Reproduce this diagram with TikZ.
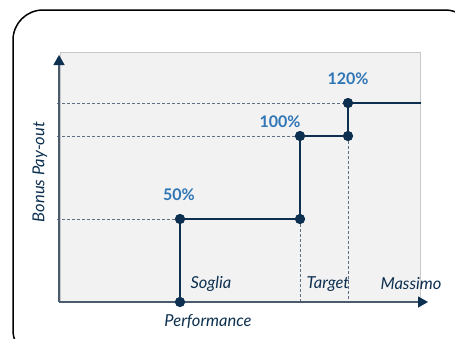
\documentclass[tikz,border=0pt]{standalone}
\usepackage{fontspec}
\setmainfont{Lato}
\usetikzlibrary{arrows.meta}
\definecolor{navy}{HTML}{0D3050}
\definecolor{axisc}{HTML}{4A5B6E}
\definecolor{dashc}{HTML}{5F6E80}
\definecolor{pctblue}{HTML}{2E75B6}
\definecolor{panel}{HTML}{F2F2F2}
\definecolor{panelb}{HTML}{C8C8C8}
\tikzset{
  dot/.style={circle,fill=navy,inner sep=0pt,minimum size=10pt},
  stepline/.style={navy,line width=2.8pt},
  guide/.style={dashc,line width=0.8pt,dash pattern=on 3pt off 2pt},
  axisline/.style={axisc,line width=1.3pt},
  pct/.style={text=pctblue,font=\bfseries\fontsize{16}{18}\selectfont},
  lbl/.style={text=navy,font=\itshape\fontsize{16.5}{19}\selectfont}
}
\begin{document}
\begin{tikzpicture}[x=1pt,y=-1pt]
\useasboundingbox (0,0) rectangle (455,338);
\begin{scope}
\clip (0,0) rectangle (455,338);
\draw[black,line width=1.5pt,rounded corners=30pt] (13,10) rectangle (475,360);
\end{scope}
\draw[panelb,fill=panel,line width=0.6pt] (60,52) rectangle (420,302);
% guides
\coordinate (g120) at (57,103);
\coordinate (g100) at (57,136);
\coordinate (g50) at (57,219);
\coordinate (xo) at (59,302);
\coordinate (xe) at (428,302);
\coordinate (ye) at (59,55);
\coordinate (rend) at (421,103);
\node[dot] (p0) at (180,302) {};
\node[dot] (p1) at (180,219) {};
\node[dot] (p2) at (300,219) {};
\node[dot] (p3) at (300,136) {};
\node[dot] (p4) at (348,136) {};
\node[dot] (p5) at (348,103) {};
\coordinate (b2) at (300,302);
\coordinate (b4) at (348,302);
\draw[guide] (g120) -- (p5);
\draw[guide] (g100) -- (p3);
\draw[guide] (g50) -- (p1);
\draw[guide] (p2) -- (b2);
\draw[guide] (p4) -- (b4);
% axes
\draw[axisline,-{Triangle[length=10pt,width=11pt,fill=navy,color=navy]}] (xo) -- (xe);
\draw[axisline,-{Triangle[length=10pt,width=11pt,fill=navy,color=navy]}] (xo) -- (ye);
% step line
\draw[stepline] (p0.center) -- (p1.center) -- (p2.center) -- (p3.center) -- (p4.center) -- (p5.center) -- (rend);
\node[dot] at (p0) {};
\node[dot] at (p1) {};
\node[dot] at (p2) {};
\node[dot] at (p3) {};
\node[dot] at (p4) {};
\node[dot] at (p5) {};
% labels
\node[pct] (l120) at (348,79) {120\%};
\node[pct] (l100) at (280,122) {100\%};
\node[pct] (l50) at (179,195) {50\%};
\node[lbl] (soglia) at (211,284) {Soglia};
\node[lbl] (target) at (328,284) {Target};
\node[lbl] (massimo) at (411,284) {Massimo};
\node[lbl] (perf) at (208,322) {Performance};
\node[lbl,rotate=90] (ylab) at (40,172) {Bonus Pay-out};
\end{tikzpicture}
\end{document}
